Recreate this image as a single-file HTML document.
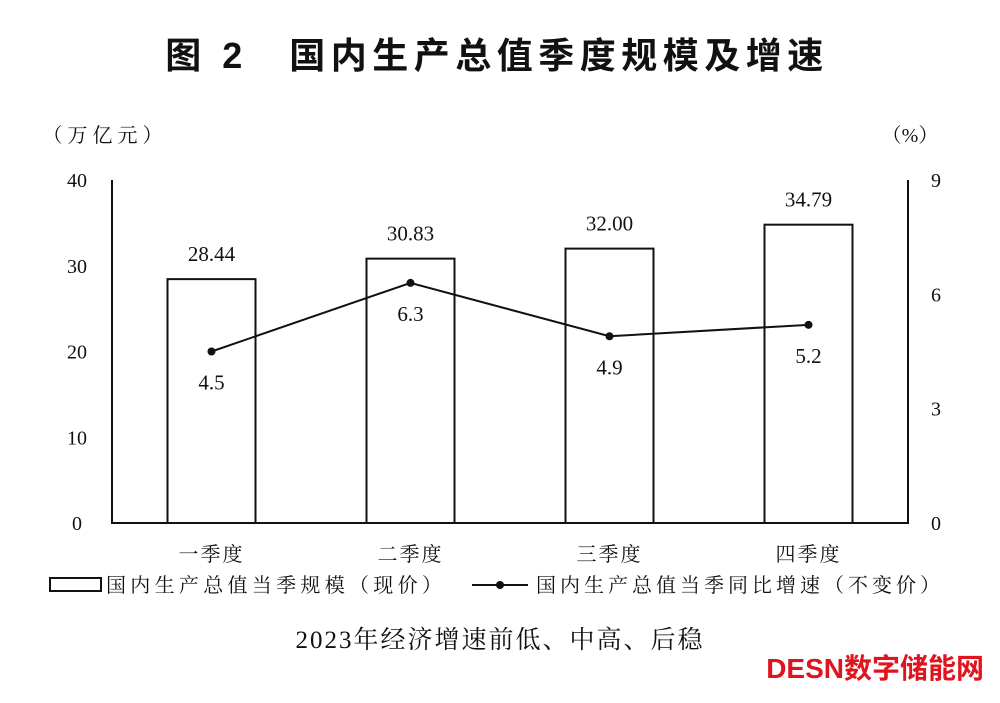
<!DOCTYPE html>
<html><head><meta charset="utf-8"><style>
body{margin:0;background:#fff;width:1000px;height:698px;overflow:hidden}
svg text{font-family:"Liberation Serif","Noto Serif CJK SC",serif;fill:#111}
</style></head><body>
<svg id="c" width="1000" height="698">
<text x="497" y="68" text-anchor="middle" font-size="36" font-weight="bold" letter-spacing="5.5" style="font-family:'Liberation Sans','Noto Sans CJK SC',sans-serif">图 2　国内生产总值季度规模及增速</text>
<text x="105" y="142" text-anchor="middle" font-size="20" letter-spacing="5">（万亿元）</text>
<text x="910" y="142" text-anchor="middle" font-size="20">（%）</text>
<g id="axes"></g><g id="bars"></g><g id="line"></g>
<g>
<rect x="50" y="578" width="51" height="13" fill="none" stroke="#111" stroke-width="2"/>
<text x="106" y="592" font-size="20" letter-spacing="4.3">国内生产总值当季规模（现价）</text>
<line x1="472" y1="585" x2="528" y2="585" stroke="#111" stroke-width="2"/>
<circle cx="500" cy="585" r="4" fill="#111"/>
<text x="536" y="592" font-size="20" letter-spacing="4">国内生产总值当季同比增速（不变价）</text>
</g>
<text x="500" y="648" text-anchor="middle" font-size="25" letter-spacing="2">2023年经济增速前低、中高、后稳</text>
<text x="984" y="678" text-anchor="end" font-size="28" font-weight="bold" fill="#e0141e" style="fill:#e0141e;font-family:'Liberation Sans','Noto Sans CJK SC',sans-serif">DESN数字储能网</text>
</svg>
<script>
const categories=["一季度","二季度","三季度","四季度"];
const gdpValues=[28.44,30.83,32.00,34.79];
const growthValues=[4.5,6.3,4.9,5.2];
const leftTicks=[0,10,20,30,40];
const rightTicks=[0,3,6,9];
const NS="http://www.w3.org/2000/svg";
const X0=112,X1=908,Y0=523,Y1=180;
const yL=v=>Y0-(v/40)*(Y0-Y1);
const yR=v=>Y0-(v/9)*(Y0-Y1);
const bw=(X1-X0)/categories.length;
const xC=i=>X0+bw*(i+0.5);
function mk(t,a,p){const e=document.createElementNS(NS,t);for(const k in a)e.setAttribute(k,a[k]);p.appendChild(e);return e;}
const ax=document.getElementById('axes');
let e=mk('path',{d:`M${X0},${Y1}V${Y0}H${X1}V${Y1}`,fill:'none',stroke:'#111','stroke-width':2},ax);


leftTicks.forEach(v=>{const t=mk('text',{x:X0-35,y:yL(v)+7,'text-anchor':'middle','font-size':20},ax);t.textContent=v;

});
rightTicks.forEach(v=>{const t=mk('text',{x:X1+28,y:yR(v)+7,'text-anchor':'middle','font-size':20},ax);t.textContent=v;

});
categories.forEach((c,i)=>{const t=mk('text',{x:xC(i),y:561,'text-anchor':'middle','font-size':20,'letter-spacing':2},ax);t.textContent=c;

});
const bg=document.getElementById('bars');
gdpValues.forEach((v,i)=>{const r=mk('rect',{x:xC(i)-44,y:yL(v),width:88,height:Y0-yL(v),fill:'#fff',stroke:'#111','stroke-width':2},bg);


const t=mk('text',{x:xC(i),y:yL(v)-18,'text-anchor':'middle','font-size':21},bg);t.textContent=v.toFixed(2);

});
const lg=document.getElementById('line');
const pl=mk('polyline',{points:growthValues.map((v,i)=>xC(i)+','+yR(v)).join(' '),fill:'none',stroke:'#111','stroke-width':2},lg);


growthValues.forEach((v,i)=>{const c=mk('circle',{cx:xC(i),cy:yR(v),r:4,fill:'#111'},lg);


const t=mk('text',{x:xC(i),y:yR(v)+38,'text-anchor':'middle','font-size':21},lg);t.textContent=v.toFixed(1);

});
</script>
</body></html>
